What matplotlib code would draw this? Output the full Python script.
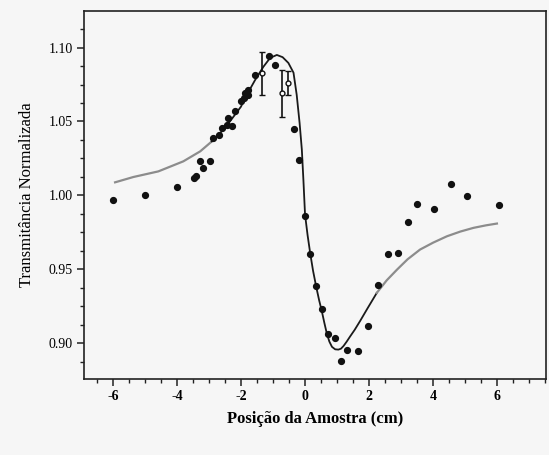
import matplotlib
matplotlib.use("Agg")
import matplotlib.pyplot as plt
import numpy as np
from matplotlib.ticker import MultipleLocator

plt.rcParams["axes.unicode_minus"] = False

# Measured data points
pos = [-6.0, -4.99, -4.0, -3.48, -3.41, -3.27, -3.17, -2.98,
       -2.86, -2.70, -2.60, -2.44, -2.39, -2.28, -2.18, -1.99, -1.92, -1.87, -1.79, -1.77,
       -1.56, -1.14, -0.95, -0.36,
       -0.175, 0.004, 0.16, 0.35, 0.525, 0.71, 0.92, 1.12, 1.32, 1.64, 1.95,
       2.27, 2.59, 2.89, 3.2, 3.51, 4.02, 4.55, 5.05, 6.07]
trans = [0.9971, 1.000, 1.0056, 1.0115, 1.0133, 1.023, 1.0185, 1.0235,
         1.0388, 1.0411, 1.0456, 1.0478, 1.0524, 1.0467, 1.0568, 1.0636, 1.0659, 1.0693, 1.0715, 1.0681,
         1.0817, 1.094, 1.088, 1.045,
         1.0237, 0.9858, 0.9606, 0.9384, 0.9231, 0.9064, 0.9035, 0.8882, 0.8956, 0.8947, 0.9114,
         0.9391, 0.9601, 0.9612, 0.982, 0.9939, 0.9908, 1.0074, 0.9998, 0.9937]

# Points with error bars
err_pos = [-1.33, -0.72, -0.52]
err_val = [1.0825, 1.069, 1.076]
err_size = [0.0148, 0.016, 0.008]

# Fitted curve
fit_x = [-5.93, -5.36, -4.58, -3.8, -3.27, -2.91, -2.5, -2.0, -1.87, -1.56, -1.3, -1.09,
         -0.88, -0.7, -0.52, -0.36, -0.26, -0.17, -0.1, -0.05, 0.0, 0.08, 0.16, 0.25, 0.35,
         0.44, 0.52, 0.6, 0.68, 0.76, 0.84, 0.94, 1.04, 1.12, 1.2, 1.3, 1.41, 1.55, 1.72,
         1.95, 2.24, 2.55, 2.87, 3.2, 3.59, 4.0, 4.43, 4.85, 5.26, 5.65, 5.99]
fit_y = [1.0088, 1.0124, 1.0162, 1.023, 1.0298, 1.0365, 1.0455, 1.060, 1.066, 1.078, 1.087, 1.093,
         1.095, 1.0935, 1.0896, 1.083, 1.068, 1.049, 1.031, 1.010, 0.987, 0.973, 0.961, 0.949, 0.938,
         0.929, 0.922, 0.914, 0.9065, 0.901, 0.8975, 0.8958, 0.8956, 0.8962, 0.898, 0.901, 0.9046, 0.909, 0.915,
         0.9235, 0.934, 0.9425, 0.9497, 0.9567, 0.9633, 0.968, 0.9723, 0.9755, 0.978, 0.9797, 0.9809]

xticks = [-6, -4, -2, 0, 2, 4, 6]
yticks = [0.90, 0.95, 1.00, 1.05, 1.10]

bg = "#f6f6f6"
fig = plt.figure(figsize=(5.49, 4.55), dpi=100, facecolor=bg)
ax = fig.add_axes([0.153, 0.167, 0.842, 0.809], facecolor=bg)

fx = np.array(fit_x)
fy = np.array(fit_y)
left = fx <= -2.9
mid = (fx >= -2.91) & (fx <= 2.24)
right = fx >= 2.24
ax.plot(fx[left], fy[left], color="#8c8c8c", lw=1.6, zorder=2, solid_joinstyle="round")
ax.plot(fx[mid], fy[mid], color="#1a1a1a", lw=1.3, zorder=2, solid_joinstyle="round")
ax.plot(fx[right], fy[right], color="#8c8c8c", lw=1.6, zorder=2, solid_joinstyle="round")

ax.plot(pos, trans, "o", color="#111111", ms=4.2, zorder=3)
ax.errorbar(err_pos, err_val, yerr=err_size, fmt="o", color="#111111", ms=3.5,
            mfc="white", mec="#111111", ecolor="#111111", elinewidth=1.2, capsize=2, zorder=3)

ax.set_xlim(-6.9, 7.53)
ax.set_ylim(0.8757, 1.1248)
ax.set_xticks(xticks)
ax.set_yticks(yticks)
ax.set_xticklabels([str(v) for v in xticks])
ax.set_yticklabels(["%.2f" % v for v in yticks])
ax.xaxis.set_minor_locator(MultipleLocator(0.5))
ax.yaxis.set_minor_locator(MultipleLocator(0.0125))
ax.tick_params(which="major", direction="out", length=5, width=1.1, color="#222222",
               labelsize=10, pad=3)
ax.tick_params(which="minor", direction="out", length=3, width=1.0, color="#222222")
for lab in ax.get_xticklabels() + ax.get_yticklabels():
    lab.set_family("Liberation Serif")
for lab in ax.get_xticklabels():
    lab.set_fontweight("bold")
for s in ax.spines.values():
    s.set_linewidth(1.2)
    s.set_color("#222222")

ax.set_xlabel("Posição da Amostra (cm)", family="Liberation Serif", fontsize=12,
              fontweight="bold", labelpad=6)
ax.set_ylabel("Transmitância Normalizada", family="Liberation Serif", fontsize=12,
              labelpad=10)

fig.savefig("out.png", dpi=100, facecolor=bg)
